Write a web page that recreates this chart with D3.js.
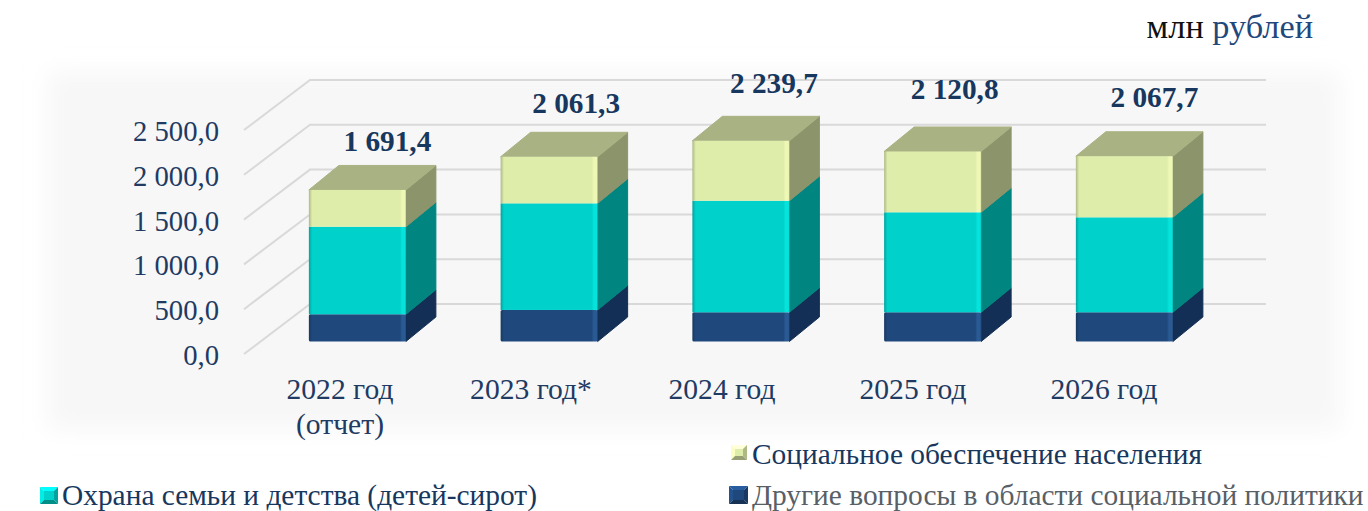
<!DOCTYPE html>
<html>
<head>
<meta charset="utf-8">
<script src="https://d3js.org/d3.v7.min.js"></script>
<style>
  html, body { margin: 0; padding: 0; background: #fff; overflow: hidden; }
  text { font-family: "Liberation Serif", serif; }
</style>
</head>
<body>
<div id="chart"></div>
<script>
const categories = ["2022 год|(отчет)", "2023 год*", "2024 год", "2025 год", "2026 год"];
const totals = [1691.4, 2061.3, 2239.7, 2120.8, 2067.7];
const totalLabels = ["1 691,4", "2 061,3", "2 239,7", "2 120,8", "2 067,7"];
const otherPolicy = [304, 352, 326, 326, 326];
const familyCare = [977, 1190, 1245, 1116, 1060];
const socialSecurity = [410.4, 519.3, 668.7, 678.8, 681.7];
const tickValues = [0, 500, 1000, 1500, 2000, 2500];
const tickLabels = ["0,0", "500,0", "1 000,0", "1 500,0", "2 000,0", "2 500,0"];

const width = 1368, height = 511;
const navy = "#17375e", tickNavy = "#1f3b63";

const svg = d3.select("#chart").append("svg")
    .attr("width", width)
    .attr("height", height);

const defs = svg.append("defs");
defs.append("filter").attr("id", "soft")
    .attr("x", "-5%").attr("y", "-10%").attr("width", "110%").attr("height", "120%")
  .append("feGaussianBlur").attr("stdDeviation", 11);

// series colours: front, side, top, and the bevel highlight on the front
const series = [
  { name: "other", values: otherPolicy, front: "#1f497d", side: "#132f55", top: "#132f55", edge: "#2a5a94" },
  { name: "family", values: familyCare, front: "#00d2cb", side: "#008580", top: "#008580", edge: "#05e3dc" },
  { name: "social", values: socialSecurity, front: "#dfedab", side: "#8c946c", top: "#a9b283", edge: "#eef7b4" }
];

series.forEach(s => {
  const g = defs.append("linearGradient").attr("id", "face-" + s.name);
  g.append("stop").attr("offset", 0).attr("stop-color", d3.color(s.front).darker(0.7));
  g.append("stop").attr("offset", 0.035).attr("stop-color", s.front);
  g.append("stop").attr("offset", 0.94).attr("stop-color", s.front);
  g.append("stop").attr("offset", 0.96).attr("stop-color", s.edge);
  g.append("stop").attr("offset", 0.99).attr("stop-color", s.edge);
  g.append("stop").attr("offset", 1).attr("stop-color", d3.color(s.front).darker(0.3));
});

// grey panel behind the chart
svg.append("rect")
    .attr("x", 48).attr("y", 72)
    .attr("width", 1292).attr("height", 358)
    .attr("fill", "#f7f7f7")
    .attr("filter", "url(#soft)");

// front plane of the axis, the bars stand a little behind it
const y = d3.scaleLinear().domain([0, 2500]).range([0, -224]);
const wallX = 310, wallRight = 1266, wallBase = 304;
const floorX = 244, floorBase = 354;

const grid = svg.append("g").attr("fill", "none").attr("stroke", "#d9d9d9").attr("stroke-width", 2);
tickValues.forEach(v => {
  grid.append("path")
      .attr("d", d3.line()([
        [floorX, floorBase + y(v)],
        [wallX, wallBase + y(v)],
        [wallRight, wallBase + y(v)]
      ]));
});

svg.append("g").selectAll("text")
  .data(tickValues)
  .join("text")
    .attr("x", 219)
    .attr("y", d => floorBase + y(d) + 11)
    .attr("text-anchor", "end")
    .attr("font-size", 28.7)
    .attr("fill", tickNavy)
    .text((d, i) => tickLabels[i]);

const x = d3.scaleBand()
    .domain(categories)
    .range([261.5, 1220.25])
    .paddingInner(0.494)
    .paddingOuter(0.247);

const barBase = 341.5;
const barY = d3.scaleLinear().domain([0, 2500]).range([barBase, barBase - 224]);
const depthX = 30, depthY = -24.5;
const line = d3.line();

const bars = svg.append("g").selectAll("g")
  .data(categories)
  .join("g");

bars.each(function(cat, i) {
  const g = d3.select(this);
  const left = x(cat), right = left + x.bandwidth();
  let acc = 0;
  series.forEach((s, k) => {
    const y0 = barY(acc), y1 = barY(acc + s.values[i]);
    acc += s.values[i];
    // side face
    g.append("path")
        .attr("fill", s.side)
        .attr("stroke", s.side)
        .attr("stroke-linejoin", "round")
        .attr("stroke-width", 1)
        .attr("d", line([[right, y0], [right + depthX, y0 + depthY], [right + depthX, y1 + depthY], [right, y1]]) + "Z");
    if (k === series.length - 1) {
      g.append("path")
          .attr("fill", s.top)
          .attr("stroke", s.top)
          .attr("stroke-linejoin", "round")
          .attr("stroke-width", 1)
          .attr("d", line([[left, y1], [left + depthX, y1 + depthY], [right + depthX, y1 + depthY], [right, y1]]) + "Z");
    }
    // front face, only the bottom block has soft corners
    g.append("rect")
        .attr("x", left).attr("y", y1)
        .attr("width", x.bandwidth()).attr("height", y0 - y1)
        .attr("rx", k === 0 ? 1.5 : 0)
        .attr("fill", "url(#face-" + s.name + ")");
  });
});

// totals do not sit at one distance from their bars in the source
const labelDx = [30, 27, 33, 22, 30];
const labelLift = [39, 44, 48, 52, 49];

svg.append("g").selectAll("text")
  .data(totals)
  .join("text")
    .attr("x", (d, i) => x(categories[i]) + x.bandwidth() / 2 + labelDx[i])
    .attr("y", (d, i) => barY(d) - labelLift[i])
    .attr("text-anchor", "middle")
    .attr("font-size", 29.3)
    .attr("font-weight", "bold")
    .attr("fill", navy)
    .text((d, i) => totalLabels[i]);

// category labels, some on two rows
const catX = d3.scalePoint().domain(categories).range([340, 1104]);

const catText = svg.append("g").selectAll("text")
  .data(categories)
  .join("text")
    .attr("text-anchor", "middle")
    .attr("font-size", 29.6)
    .attr("fill", tickNavy);

catText.each(function(cat) {
  const t = d3.select(this);
  cat.split("|").forEach((row, r) => {
    t.append("tspan")
        .attr("x", catX(cat))
        .attr("y", 399 + r * 35)
        .text(row);
  });
});

// unit caption
const unit = svg.append("text")
    .attr("x", 1313).attr("y", 38)
    .attr("text-anchor", "end")
    .attr("font-size", 34.3);
unit.append("tspan").attr("fill", "#111").text("млн ");
unit.append("tspan").attr("fill", "#1f497d").text("рублей");

// legend
const legendItems = [
  { label: "Социальное обеспечение населения", s: series[2], color: navy, x: 731, y: 445, w: 16, h: 15, tx: 752, ty: 464 },
  { label: "Охрана семьи и детства (детей-сирот)", s: series[1], color: navy, x: 40, y: 487, w: 18, h: 17, tx: 62, ty: 504.5 },
  { label: "Другие вопросы в области социальной политики", s: series[0], color: "#595f66", x: 729, y: 486, w: 19, h: 18, tx: 752, ty: 504.5 }
];

const legend = svg.append("g").selectAll("g")
  .data(legendItems)
  .join("g");

// swatch is a small bevelled square: four sloped sides round a flat middle
const bevel = 4;
legend.each(function(d) {
  const g = d3.select(this).append("g").attr("transform", `translate(${d.x},${d.y})`);
  const a = [0, 0], b = [d.w, 0], c = [d.w, d.h], e = [0, d.h];
  const ia = [bevel, bevel], ib = [d.w - bevel, bevel], ic = [d.w - bevel, d.h - bevel], ie = [bevel, d.h - bevel];
  const front = d3.color(d.s.front);
  [
    [[a, b, ib, ia], front.brighter(0.7)],
    [[e, a, ia, ie], front.brighter(0.35)],
    [[b, c, ic, ib], front.darker(0.7)],
    [[c, e, ie, ic], front.darker(1.1)],
    [[ia, ib, ic, ie], front]
  ].forEach(([pts, fill]) => {
    g.append("path").attr("d", line(pts) + "Z").attr("fill", fill);
  });
});

legend.append("text")
    .attr("x", d => d.tx)
    .attr("y", d => d.ty)
    .attr("font-size", 29.4)
    .attr("fill", d => d.color)
    .text(d => d.label);
</script>
</body>
</html>
